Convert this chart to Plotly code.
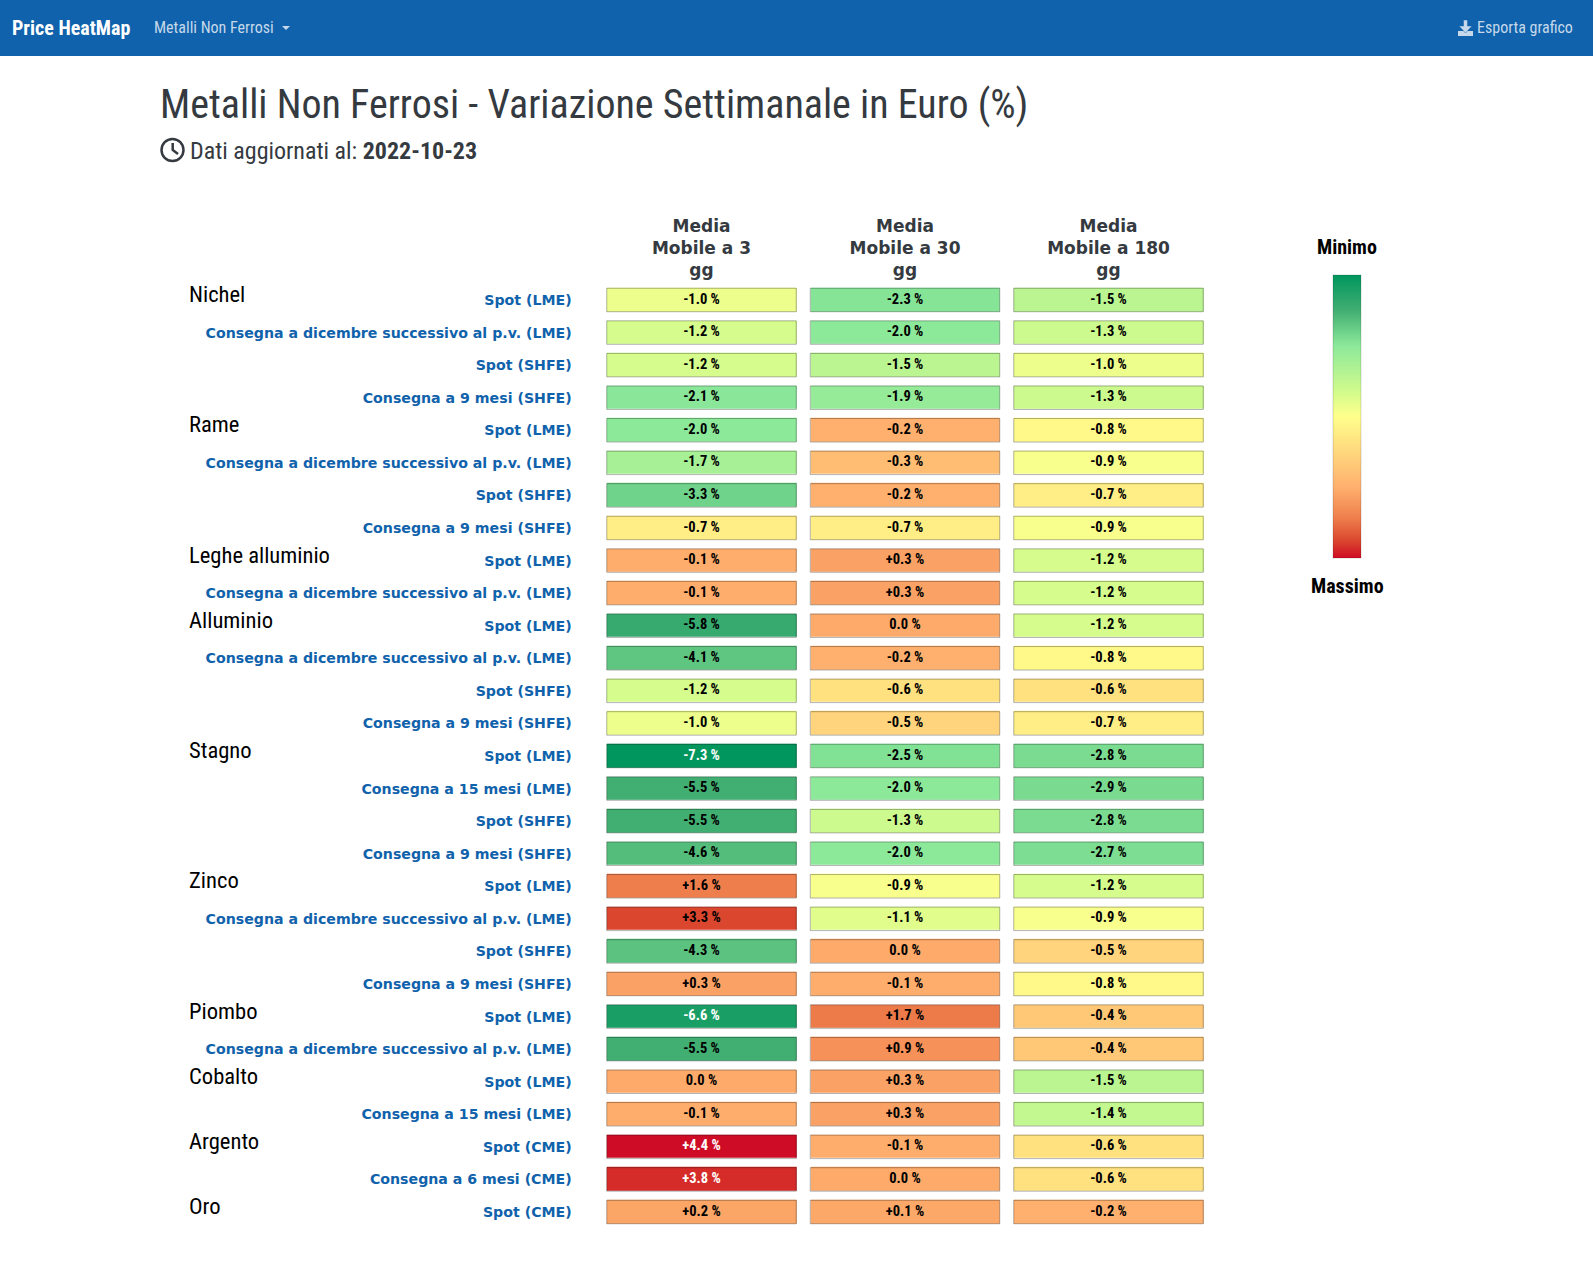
import numpy as np
import plotly.graph_objects as go

WIDTH, HEIGHT = 1593, 1266
NARROW = "Roboto Condensed, Liberation Sans Narrow, Roboto"
LABEL_FONT = "DejaVu Sans"

columns = ["Media<br>Mobile a 3<br>gg", "Media<br>Mobile a 30<br>gg", "Media<br>Mobile a 180<br>gg"]

SPOT_LME = "Spot (LME)"
SPOT_SHFE = "Spot (SHFE)"
SPOT_CME = "Spot (CME)"
DIC_LME = "Consegna a dicembre successivo al p.v. (LME)"
NOVE_SHFE = "Consegna a 9 mesi (SHFE)"
QUINDICI_LME = "Consegna a 15 mesi (LME)"
SEI_CME = "Consegna a 6 mesi (CME)"

products = [
    SPOT_LME, DIC_LME, SPOT_SHFE, NOVE_SHFE,
    SPOT_LME, DIC_LME, SPOT_SHFE, NOVE_SHFE,
    SPOT_LME, DIC_LME,
    SPOT_LME, DIC_LME, SPOT_SHFE, NOVE_SHFE,
    SPOT_LME, QUINDICI_LME, SPOT_SHFE, NOVE_SHFE,
    SPOT_LME, DIC_LME, SPOT_SHFE, NOVE_SHFE,
    SPOT_LME, DIC_LME,
    SPOT_LME, QUINDICI_LME,
    SPOT_CME, SEI_CME,
    SPOT_CME,
]

metals = ["Nichel", "Rame", "Leghe alluminio", "Alluminio", "Stagno", "Zinco", "Piombo", "Cobalto", "Argento", "Oro"]
metal_rows = [0, 4, 8, 10, 14, 18, 22, 24, 26, 28]

media_3 = [
    -1.0, -1.2, -1.2, -2.1, -2.0, -1.7, -3.3, -0.7, -0.1, -0.1,
    -5.8, -4.1, -1.2, -1.0, -7.3, -5.5, -5.5, -4.6, 1.6, 3.3,
    -4.3, 0.3, -6.6, -5.5, 0.0, -0.1, 4.4, 3.8, 0.2,
]
media_30 = [
    -2.3, -2.0, -1.5, -1.9, -0.2, -0.3, -0.2, -0.7, 0.3, 0.3,
    0.0, -0.2, -0.6, -0.5, -2.5, -2.0, -1.3, -2.0, -0.9, -1.1,
    0.0, -0.1, 1.7, 0.9, 0.3, 0.3, -0.1, 0.0, 0.1,
]
media_180 = [
    -1.5, -1.3, -1.0, -1.3, -0.8, -0.9, -0.7, -0.9, -1.2, -1.2,
    -1.2, -0.8, -0.6, -0.7, -2.8, -2.9, -2.8, -2.7, -1.2, -0.9,
    -0.5, -0.8, -0.4, -0.4, -1.5, -1.4, -0.6, -0.6, -0.2,
]

# value -> place on the legend ramp (the source scale is not linear)
scale_values = [-7.3, -5.5, -2.0, -1.2, -0.85, -0.2, 1.6, 3.3, 4.4]
scale_places = [1.0, 0.875, 0.75, 0.58, 0.5, 0.25, 0.14, 0.06, 0.0]
ramp_colors = ["#00965E", "#41AE72", "#8CE99A", "#D5FC8C", "#FFFF8C", "#FFB06E", "#EE7E4C", "#DA462E", "#CF0C25"]


def px(x):
    return x / WIDTH


def py(y):
    return 1 - y / HEIGHT


def pct(value):
    if value == 0:
        return "0.0 %"
    return f"{value:+.1f} %"


values = np.array([media_3, media_30, media_180]).T
rows = list(range(len(products)))
places = np.interp(values, scale_values, scale_places)
ramp = sorted(zip(scale_places, ramp_colors))

fig = go.Figure()

fig.add_trace(
    go.Heatmap(
        x=columns,
        y=rows,
        z=places,
        zmin=0,
        zmax=1,
        colorscale=[list(stop) for stop in ramp],
        xgap=14,
        ygap=9,
        hoverinfo="skip",
        colorbar={
            "x": px(1333),
            "xanchor": "left",
            "xpad": 0,
            "y": py(275),
            "yanchor": "top",
            "ypad": 0,
            "len": 283 / HEIGHT,
            "lenmode": "fraction",
            "thickness": 28,
            "thicknessmode": "pixels",
            "outlinecolor": "rgba(0,0,0,0.15)",
            "outlinewidth": 1,
            "showticklabels": False,
            "ticks": "",
        },
    )
)

# cell outlines
half_w, half_h = 0.4656, 0.3605
for col in range(len(columns)):
    for row in rows:
        fig.add_shape(
            type="rect",
            xref="x",
            yref="y",
            x0=col - half_w,
            x1=col + half_w,
            y0=row - half_h,
            y1=row + half_h,
            line={"color": "rgba(0,0,0,0.3)", "width": 1},
            fillcolor="rgba(0,0,0,0)",
        )

# cell captions, white on the darkest cells
flat_x = [columns[c] for _ in rows for c in range(len(columns))]
flat_y = [r for r in rows for _ in columns]
flat_v = values.ravel()
fig.add_trace(
    go.Scatter(
        x=flat_x,
        y=flat_y,
        mode="text",
        text=[pct(v) for v in flat_v],
        textposition="middle center",
        textfont={
            "family": NARROW,
            "size": 14.5,
            "weight": "bold",
            "color": ["#ffffff" if v <= -6 or v >= 3.5 else "#000000" for v in flat_v],
        },
        hoverinfo="skip",
        showlegend=False,
    )
)

for name, row in zip(metals, metal_rows):
    fig.add_annotation(
        x=px(187),
        xref="paper",
        y=row,
        yref="y",
        yshift=5.5,
        xanchor="left",
        text=name,
        showarrow=False,
        font={"family": NARROW, "size": 22.6, "color": "#000000"},
    )

# fixed ranges: the text trace would otherwise pad the autorange
fig.update_xaxes(
    domain=[px(599.75), px(1210.25)],
    range=[-0.5, len(columns) - 0.5],
    side="top",
    automargin=False,
    showgrid=False,
    zeroline=False,
    ticks="",
    ticklabelstandoff=3,
    tickfont={"family": LABEL_FONT, "size": 17, "weight": "bold", "color": "#343a40"},
    tickangle=0,
)
fig.update_yaxes(
    domain=[py(1228.3), py(283.7)],
    range=[len(products) - 0.5, -0.5],
    automargin=False,
    tickmode="array",
    tickvals=rows,
    ticktext=products,
    showgrid=False,
    zeroline=False,
    ticks="",
    ticklabelstandoff=27,
    tickfont={"family": LABEL_FONT, "size": 14.17, "weight": "bold", "color": "#0f62ab"},
)

# page furniture
fig.add_shape(
    type="rect", xref="paper", yref="paper", x0=0, x1=1, y0=py(56), y1=1,
    fillcolor="#0f62ab", line={"width": 0}, layer="below",
)
# clock icon
fig.add_shape(
    type="circle", xref="paper", yref="paper", x0=px(161.5), x1=px(183.5), y0=py(161), y1=py(139),
    line={"color": "#343a40", "width": 2.5},
)
fig.add_shape(
    type="path", xref="paper", yref="paper",
    path=f"M {px(172.7)} {py(143)} L {px(172.7)} {py(150)} L {px(178)} {py(154)}",
    line={"color": "#343a40", "width": 2.5},
)
# download icon
fig.add_shape(
    type="rect", xref="paper", yref="paper", x0=px(1458), x1=px(1473), y0=py(36), y1=py(31),
    fillcolor="#c6d8ea", line={"width": 0},
)
fig.add_shape(
    type="path", xref="paper", yref="paper",
    path=f"M {px(1463.5)} {py(20)} L {px(1467.5)} {py(20)} L {px(1467.5)} {py(26)} L {px(1472)} {py(26)} "
    f"L {px(1465.5)} {py(33)} L {px(1459)} {py(26)} L {px(1463.5)} {py(26)} Z",
    fillcolor="#c6d8ea", line={"color": "#0f62ab", "width": 0.5},
)

page_texts = [
    (10, 28, "left", "Price HeatMap", 20, "#ffffff", "bold"),
    (152, 28, "left", "Metalli Non Ferrosi", 16, "#c6d8ea", "normal"),
    (1475, 28, "left", "Esporta grafico", 16, "#c6d8ea", "normal"),
    (158, 104, "left", "Metalli Non Ferrosi - Variazione Settimanale in Euro (%)", 40, "#343a40", "normal"),
    (188, 151, "left", "Dati aggiornati al: <b>2022-10-23</b>", 24, "#343a40", "normal"),
    (1347, 247, "center", "Minimo", 20, "#000000", "bold"),
    (1347, 586, "center", "Massimo", 20, "#000000", "bold"),
]
for x, y, anchor, text, size, color, weight in page_texts:
    fig.add_annotation(
        x=px(x), y=py(y), xref="paper", yref="paper", xanchor=anchor, yanchor="middle",
        text=text, showarrow=False,
        font={"family": NARROW, "size": size, "color": color, "weight": weight},
    )
# dropdown caret
fig.add_shape(
    type="path", xref="paper", yref="paper",
    path=f"M {px(282)} {py(26)} L {px(290)} {py(26)} L {px(286)} {py(30)} Z",
    fillcolor="#c6d8ea", line={"width": 0},
)

fig.update_layout(
    width=WIDTH,
    height=HEIGHT,
    margin={"l": 0, "r": 0, "t": 0, "b": 0},
    paper_bgcolor="#ffffff",
    plot_bgcolor="#ffffff",
    showlegend=False,
)

fig.write_html("out.html", config={"displayModeBar": False}, post_script="document.body.style.margin='0';")
